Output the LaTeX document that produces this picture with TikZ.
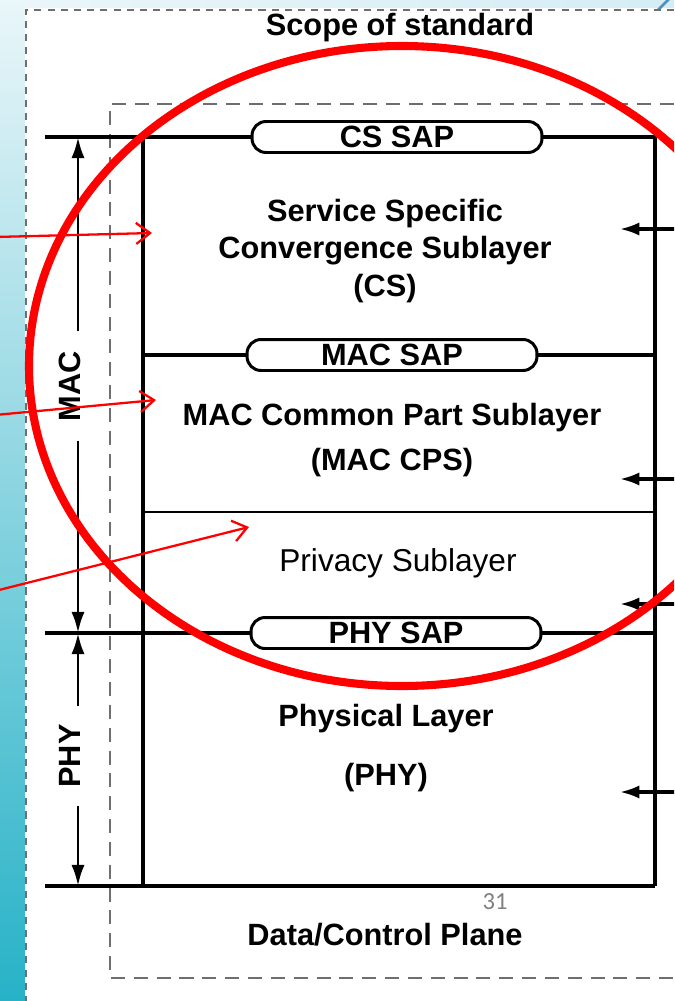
\documentclass[tikz,border=0pt]{standalone}
\usepackage{fontspec}
\setmainfont{Liberation Sans}
\newfontfamily\slidefont{Carlito}
\usetikzlibrary{arrows.meta,positioning,shapes,calc}

\definecolor{slidetop}{RGB}{234,246,249}
\definecolor{slidemid}{RGB}{140,208,222}
\definecolor{slidebot}{RGB}{39,178,199}
\definecolor{slideband}{RGB}{212,237,244}
\definecolor{slideslash}{RGB}{80,145,185}
\definecolor{dashgray}{RGB}{110,110,110}

\begin{document}
\begin{tikzpicture}[
    x=0.02cm, y=-0.02cm,
    lbl/.style={font=\fontsize{17.5}{21.3}\selectfont\bfseries, inner sep=0pt},
    sap/.style={draw, line width=1.7pt, rounded corners=0.28cm, fill=white, minimum width=5.8cm, minimum height=0.62cm, inner sep=0pt, font=\fontsize{17.5}{21}\selectfont\bfseries},
    edge/.style={line width=2.1pt},
    dimarrow/.style={line width=1.7pt, -{Latex[length=12pt,width=7.5pt]}},
    inarrow/.style={line width=1.8pt, -{Latex[length=11pt,width=7.5pt]}},
    pointer/.style={red, line width=1.3pt, -{Straight Barb[length=8pt,width=12pt]}},
    outerdash/.style={dashgray, line width=1.1pt, dash pattern=on 4pt off 3.5pt},
    innerdash/.style={dashgray, line width=1.3pt, dash pattern=on 8pt off 5pt}
]
\useasboundingbox (0,0) rectangle (674,1001);
\clip (0,0) rectangle (674,1001);

% slide background
\fill[top color=slidetop, middle color=slidemid, bottom color=slidebot] (0,0) rectangle (25,1001);
\fill[left color=slidetop, right color=slideband] (25,0) rectangle (674,8);
\fill[white] (25,8) rectangle (674,1001);
\draw[slideslash, line width=1.5pt] (658,10) -- (678,-10);

% scope boxes
\draw[outerdash] (674,10) -- (26,10) -- (26,1001);
\draw[innerdash] (674,104) -- (110,104) -- (110,978) -- (674,978);
\node[lbl] (scope) at (400,28) {Scope of standard};

% layer stack
\draw[edge] (45,137) -- (655,137) -- (655,886);
\draw[edge] (143,137) -- (143,886);
\draw[edge] (45,886) -- (655,886);
\draw[edge] (45,633) -- (655,633);
\draw[edge] (143,355) -- (655,355);
\draw[line width=1.5pt] (143,512) -- (655,512);

\node[sap] (cssap) at (397,137) {CS SAP};
\node[sap] (macsap) at (392,355) {MAC SAP};
\node[sap] (physap) at (396,633) {PHY SAP};

\node[lbl, align=center] (cs) at (385,251) {Service Specific\\Convergence Sublayer\\(CS)};
\node[lbl, align=center] (cps) at (392,440) {MAC Common Part Sublayer\\[4pt](MAC CPS)};
\node[lbl, font=\fontsize{18}{21}\selectfont] (priv) at (398,563) {Privacy Sublayer};
\node[lbl, align=center] (phy) at (386,748) {Physical Layer\\[12pt](PHY)};
\node[lbl] (plane) at (385,935) {Data/Control Plane};
\node[font=\slidefont\fontsize{14}{16}\selectfont, text=gray, inner sep=0pt] (page) at (495,902) {31};

% MAC / PHY extent
\coordinate (mactop) at (78,137);
\coordinate (macbot) at (78,633);
\coordinate (phybot) at (78,886);
\node[lbl, rotate=90, inner xsep=11pt] (maclbl) at (70,386) {MAC};
\node[lbl, rotate=90, inner xsep=10pt] (phylbl) at (70,756) {PHY};
\draw[dimarrow] (maclbl.east -| mactop) -- (mactop);
\draw[dimarrow] (maclbl.west -| macbot) -- (macbot);
\draw[dimarrow] (phylbl.east -| macbot) -- (macbot);
\draw[dimarrow] (phylbl.west -| phybot) -- (phybot);

% inputs from the right
\foreach \n/\y in {cs/229, cps/479, priv/604, phy/792} {
    \coordinate (\n in) at (676,\y);
    \coordinate (\n tip) at (620,\y);
    \draw[inarrow] (\n in) -- (\n tip);
}

% highlight
\draw[red, line width=4.6pt] (402,366) ellipse [x radius=373, y radius=320];
\coordinate (p1from) at (-5,237);
\coordinate (p1to) at (152,233);
\coordinate (p2from) at (-5,415);
\coordinate (p2to) at (156,400);
\coordinate (p3from) at (-5,591);
\coordinate (p3to) at (249,527);
\draw[pointer] (p1from) -- (p1to);
\draw[pointer] (p2from) -- (p2to);
\draw[pointer] (p3from) -- (p3to);
\end{tikzpicture}
\end{document}
